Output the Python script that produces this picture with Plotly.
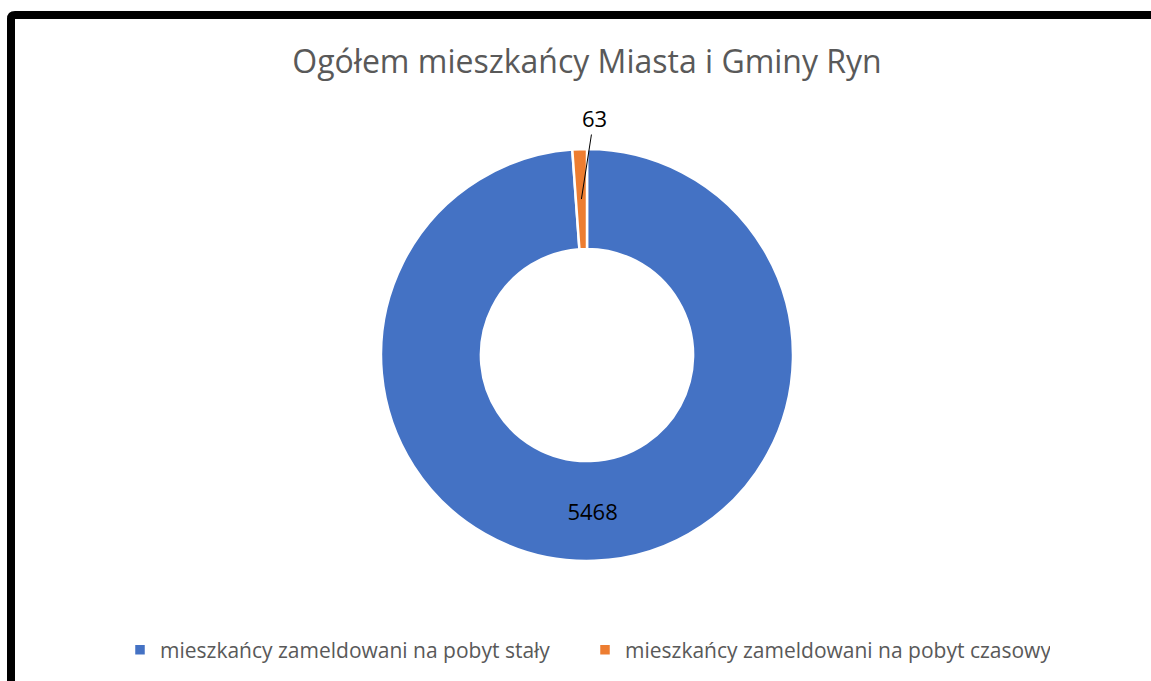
import math
import plotly.graph_objects as go

# ---- data ----
labels = ["mieszkańcy zameldowani na pobyt stały", "mieszkańcy zameldowani na pobyt czasowy"]
values = [5468, 63]
colors = ["#4472C4", "#ED7D31"]
title_text = "Ogółem mieszkańcy Miasta i Gminy Ryn"

W, H = 1151, 681
cx, cy, R = 587, 355, 206   # pixel centre / radius of the donut
hole = 0.515

def px(x):
    return x / W

def py(y):
    return 1 - y / H

fig = go.Figure()
fig.add_trace(go.Pie(
    labels=labels,
    values=values,
    marker=dict(colors=colors, line=dict(color="white", width=2.5)),
    hole=hole,
    sort=False,
    direction="clockwise",
    rotation=0,
    texttemplate=["%{value}", ""],
    textposition="inside",
    insidetextorientation="horizontal",
    textfont=dict(family="Open Sans", size=22, color="black"),
    domain=dict(x=[px(cx - R), px(cx + R)], y=[py(cy + R), py(cy - R)]),
    hoverinfo="skip",
    showlegend=True,
))

# label for small slice with leader line, anchored at the slice's mid angle
total = sum(values)
frac_mid = (values[0] + values[1] / 2) / total
ang = 2 * math.pi * frac_mid
r_mid = R * (1 + hole) / 2
tip_x = cx + r_mid * math.sin(ang)
tip_y = cy - r_mid * math.cos(ang)
fig.add_annotation(
    x=px(tip_x), y=py(tip_y), xref="paper", yref="paper",
    text=str(values[1]),
    showarrow=True, arrowhead=0, arrowwidth=1, arrowcolor="black",
    ax=594 - tip_x, ay=118 - tip_y,
    font=dict(family="Open Sans", size=22, color="black"),
)

# outer black frame
frame = (f"M {px(11)},{py(700)} L {px(11)},{py(19)} "
         f"Q {px(11)},{py(15)} {px(15)},{py(15)} L {px(1170)},{py(15)}")
fig.add_shape(type="path", xref="paper", yref="paper", path=frame,
              line=dict(color="black", width=8))

fig.update_layout(
    width=W, height=H,
    margin=dict(l=0, r=0, t=0, b=0),
    paper_bgcolor="white",
    plot_bgcolor="white",
    title=dict(text=title_text, x=px(587), xanchor="center", y=py(62), yanchor="middle",
               font=dict(family="Open Sans", size=32, color="#595959")),
    legend=dict(orientation="h", x=px(120), xanchor="left", y=py(650), yanchor="middle",
                font=dict(family="Open Sans", size=21, color="#595959"),
                entrywidth=420, entrywidthmode="pixels",
                traceorder="normal"),
    font=dict(family="Open Sans"),
)

fig.write_html("out.html", config={"displayModeBar": False},
               post_script="document.body.style.margin='0';")
